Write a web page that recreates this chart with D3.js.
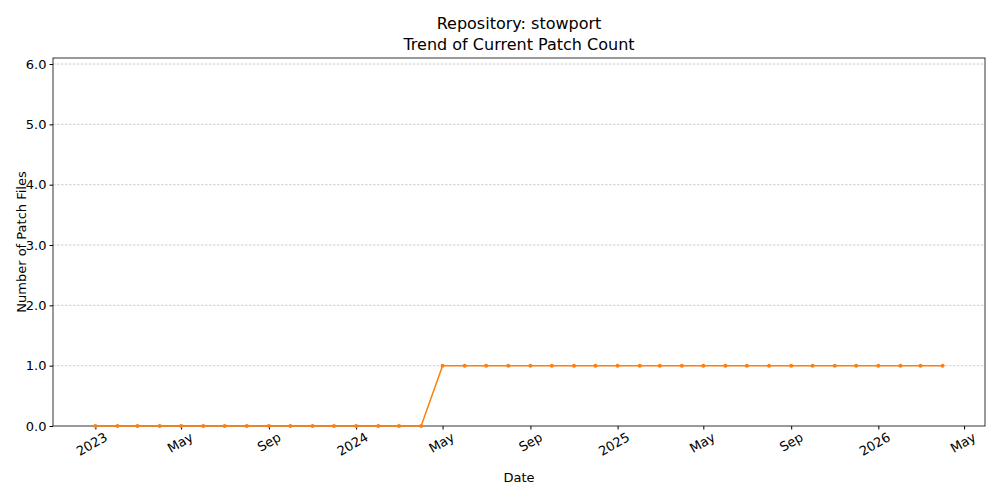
<!DOCTYPE html>
<html><head><meta charset="utf-8">
<script src="https://cdn.jsdelivr.net/npm/d3@7"></script>
<style>body{margin:0;background:#fff}text{font-family:"DejaVu Sans",sans-serif}</style>
</head><body><div class="chart"></div>
<script>
const width = 1000, height = 500;
const margin = {top: 58, right: 15, bottom: 74, left: 53};

// monthly samples
const startMonth = "2023-01-01";
const patchCounts = [0,0,0,0,0,0,0,0,0,0,0,0,0,0,0,0,
                     1,1,1,1,1,1,1,1,1,1,1,1,1,1,1,1,1,1,1,1,1,1,1,1];
const yTicks = [0,1,2,3,4,5,6];

const start = new Date(startMonth + "T00:00:00");
const data = patchCounts.map((v, i) => ({date: d3.timeMonth.offset(start, i), value: v}));

const svg = d3.select(".chart").append("svg")
    .attr("width", width).attr("height", height);

const t0 = data[0].date, t1 = data[data.length - 1].date;
const pad = (t1 - t0) * 0.05;
const x = d3.scaleTime()
    .domain([new Date(+t0 - pad), new Date(+t1 + pad)])
    .range([margin.left, width - margin.right]);
const y = d3.scaleLinear()
    .domain([0, 6.1])
    .range([height - margin.bottom, margin.top]);

// grid
svg.append("g").selectAll("line")
    .data(yTicks.filter(d => d > 0))
    .join("line")
    .attr("x1", margin.left).attr("x2", width - margin.right)
    .attr("y1", d => y(d)).attr("y2", d => y(d))
    .attr("stroke", "#b0b0b0").attr("stroke-width", 0.6)
    .attr("stroke-dasharray", "2.5,1.5");

// x axis
const xTicks = d3.timeMonth.every(4).range(new Date(2023, 0, 1), new Date(2026, 6, 1));
const fmt = d => d.getMonth() === 0 ? d3.timeFormat("%Y")(d) : d3.timeFormat("%b")(d);
const xAxis = svg.append("g")
    .attr("transform", `translate(0,${height - margin.bottom})`)
    .call(d3.axisBottom(x).tickValues(xTicks).tickFormat(fmt).tickSizeOuter(0).tickSize(3.5));
xAxis.selectAll("text")
    .attr("font-size", 13).attr("fill", "#000")
    .attr("text-anchor", "end")
    .attr("dx", "0.3em").attr("dy", "0.9em")
    .attr("transform", "rotate(-30)");

// y axis
const yAxis = svg.append("g")
    .attr("transform", `translate(${margin.left},0)`)
    .call(d3.axisLeft(y).tickValues(yTicks).tickSizeOuter(0).tickSize(3.5));
yAxis.selectAll("text").attr("font-size", 13).attr("fill", "#000");

svg.selectAll(".domain").remove();
svg.append("rect")
    .attr("x", margin.left).attr("y", margin.top)
    .attr("width", width - margin.left - margin.right)
    .attr("height", height - margin.top - margin.bottom)
    .attr("fill", "none").attr("stroke", "#000").attr("stroke-width", 0.8);

// line + markers
svg.append("path")
    .datum(data)
    .attr("fill", "none").attr("stroke", "#ff7f0e").attr("stroke-width", 1.5)
    .attr("d", d3.line().x(d => x(d.date)).y(d => y(d.value)));
svg.append("g").selectAll("circle")
    .data(data)
    .join("circle")
    .attr("cx", d => x(d.date)).attr("cy", d => y(d.value))
    .attr("r", 2).attr("fill", "#ff7f0e");

// labels
svg.append("text").attr("x", (margin.left + width - margin.right) / 2).attr("y", 29)
    .attr("text-anchor", "middle").attr("font-size", 16).text("Repository: stowport");
svg.append("text").attr("x", (margin.left + width - margin.right) / 2).attr("y", 50)
    .attr("text-anchor", "middle").attr("font-size", 16).text("Trend of Current Patch Count");
svg.append("text").attr("x", (margin.left + width - margin.right) / 2).attr("y", 482)
    .attr("text-anchor", "middle").attr("font-size", 13).text("Date");
svg.append("text")
    .attr("transform", `translate(26,${(margin.top + height - margin.bottom) / 2}) rotate(-90)`)
    .attr("text-anchor", "middle").attr("font-size", 13).text("Number of Patch Files");
</script></body></html>
